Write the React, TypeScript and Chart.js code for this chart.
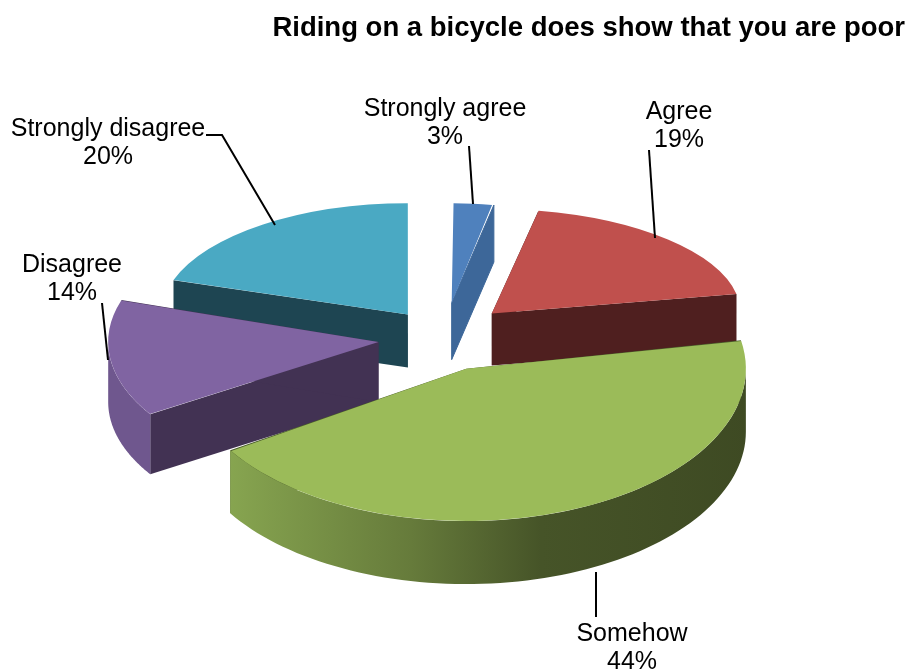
import React, { useEffect, useRef } from "react";
import { Chart, registerables } from "chart.js";

Chart.register(...registerables);

const categories = ["Strongly agree", "Agree", "Somehow", "Disagree", "Strongly disagree"];
const values = [3, 19, 44, 14, 20];
const titleText = "Riding on a bicycle does show that you are poor";

const topColors = ["#4f81bd", "#c0504d", "#9bbb59", "#8064a2", "#4aa9c3"];
const cutColors = ["#3d6799", "#4f1f1f", "#4a5c2b", "#423253", "#1e4552"];
const wallColors = ["#3d6799", "#4f1f1f", "#4a5c2b", "#6f578e", "#1e4552"];

const explode = [71, 69, 66, 62, 58];
const nudgeX = [5, 3, 2, 0, 2];
const scaleX = [0.85, 0.94, 1.055, 1.02, 0.93];
const scaleY = [0.75, 0.79, 1.15, 1.02, 0.84];
const depths = [57, 52, 63, 60, 53];
const drawOrder = [0, 4, 1, 3, 2];

const pieCenter = { x: 440, y: 338 };
const tilt = 0.5;
const baseRadius = 265;

const labelCenters = [
  { x: 445, y: 109, gap: 28.5 },
  { x: 679, y: 112, gap: 28.5 },
  { x: 632, y: 634, gap: 28.5 },
  { x: 72, y: 265, gap: 28.5 },
  { x: 108, y: 129, gap: 28.5 },
];
const leaders = [
  [[469, 146], [473, 204]],
  [[649, 150], [655, 238]],
  [[596, 572], [596, 617]],
  [[102, 303], [108, 360]],
  [[206, 135], [222, 135], [275, 225]],
];

const pie3d = {
  id: "pie3d",
  beforeDatasetsDraw(chart: any) {
    const ctx = chart.ctx;
    const arcs = chart.getDatasetMeta(0).data;
    for (const i of drawOrder) {
      const el = arcs[i];
      const { startAngle, endAngle, x, y, outerRadius, circumference } = el.getProps(
        ["startAngle", "endAngle", "x", "y", "outerRadius", "circumference"],
        true
      );
      const mid = (startAngle + endAngle) / 2;
      const off = explode[i];
      const ax = pieCenter.x + nudgeX[i] + off * Math.cos(mid);
      const ay = pieCenter.y + off * tilt * Math.sin(mid);
      const point = (a: number) => [
        ax + baseRadius * scaleX[i] * Math.cos(a),
        ay + baseRadius * tilt * scaleY[i] * Math.sin(a),
      ];
      const d = depths[i];

      // flat cut faces
      ctx.fillStyle = cutColors[i];
      ctx.strokeStyle = cutColors[i];
      ctx.lineWidth = 1;
      for (const a of [startAngle, endAngle]) {
        const p = point(a);
        ctx.beginPath();
        ctx.moveTo(ax, ay);
        ctx.lineTo(p[0], p[1]);
        ctx.lineTo(p[0], p[1] + d);
        ctx.lineTo(ax, ay + d);
        ctx.closePath();
        ctx.fill();
        if (i === 0 && a === endAngle) ctx.stroke();
      }

      // curved outer wall, only the part that faces the viewer
      const from = Math.max(startAngle, 0);
      const to = Math.min(endAngle, Math.PI);
      if (to > from) {
        const steps = 80;
        ctx.beginPath();
        for (let s = 0; s <= steps; s++) {
          const p = point(from + ((to - from) * s) / steps);
          if (s === 0) ctx.moveTo(p[0], p[1]);
          else ctx.lineTo(p[0], p[1]);
        }
        for (let s = steps; s >= 0; s--) {
          const p = point(from + ((to - from) * s) / steps);
          ctx.lineTo(p[0], p[1] + d);
        }
        ctx.closePath();
        if (i === 2) {
          const g = ctx.createLinearGradient(228, 0, 750, 0);
          g.addColorStop(0, "#87a550");
          g.addColorStop(0.35, "#667b3b");
          g.addColorStop(0.6, "#465428");
          g.addColorStop(1, "#3e4a23");
          ctx.fillStyle = g;
        } else {
          ctx.fillStyle = wallColors[i];
        }
        ctx.fill();
      }

      // top face, drawn by the library's arc element. The element moves itself by
      // offset/4 and widens its radius by offset/4 * fix, so both are undone here.
      const shift = off / 4;
      const fix = 1 - Math.sin(Math.min(Math.PI, circumference || 0));
      const drawnRadius = outerRadius + shift * fix;
      const norm = baseRadius / drawnRadius;
      ctx.save();
      ctx.translate(ax, ay);
      ctx.scale(scaleX[i] * norm, tilt * scaleY[i] * norm);
      ctx.translate(-shift * Math.cos(mid), -shift * Math.sin(mid));
      ctx.translate(-x, -y);
      el.draw(ctx);
      ctx.restore();
    }
    return false;
  },
  afterDraw(chart: any) {
    const ctx = chart.ctx;
    ctx.save();
    ctx.strokeStyle = "#000";
    ctx.lineWidth = 2;
    for (const line of leaders) {
      ctx.beginPath();
      line.forEach((p, n) => (n === 0 ? ctx.moveTo(p[0], p[1]) : ctx.lineTo(p[0], p[1])));
      ctx.stroke();
    }
    ctx.fillStyle = "#000";
    ctx.font = '25px "Liberation Sans"';
    ctx.textAlign = "center";
    ctx.textBaseline = "middle";
    categories.forEach((c, i) => {
      const l = labelCenters[i];
      ctx.fillText(c, l.x, l.y);
      ctx.fillText(values[i] + "%", l.x, l.y + l.gap);
    });
    ctx.restore();
  },
};

export default function App() {
  const ref = useRef<HTMLCanvasElement>(null);
  useEffect(() => {
    const chart = new Chart(ref.current as HTMLCanvasElement, {
      type: "pie",
      data: {
        labels: categories,
        datasets: [
          {
            data: values,
            backgroundColor: topColors,
            borderWidth: 0,
            offset: explode,
          },
        ],
      },
      options: {
        responsive: false,
        animation: false,
        radius: baseRadius,
        layout: { padding: 0 },
        plugins: {
          legend: { display: false },
          tooltip: { enabled: false },
          title: {
            display: true,
            text: titleText,
            align: "end",
            color: "#000",
            font: { family: '"Liberation Sans"', size: 27.5, weight: "bold" },
            padding: { top: 12, bottom: 10 },
          },
        },
      },
      plugins: [pie3d],
    } as any);
    return () => chart.destroy();
  }, []);
  return (
    <div style={{ position: "fixed", left: 0, top: 0, width: 905, height: 671, background: "#fff" }}>
      <canvas ref={ref} width={905} height={671} style={{ display: "block" }} />
    </div>
  );
}
